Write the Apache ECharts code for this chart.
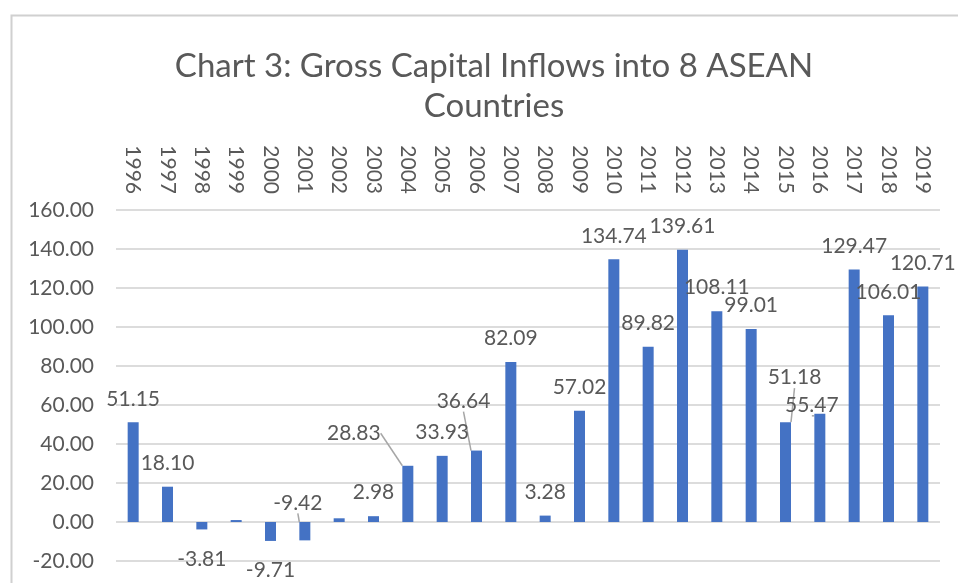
<!DOCTYPE html>
<html>
<head>
<meta charset="utf-8">
<script src="https://cdn.jsdelivr.net/npm/echarts@6/dist/echarts.min.js"></script>
<style>
html, body { margin: 0; padding: 0; background: #fff; }
#main { width: 958px; height: 583px; }
</style>
</head>
<body>
<div id="main"></div>
<script>
var years = ['1996','1997','1998','1999','2000','2001','2002','2003','2004','2005','2006','2007',
	'2008','2009','2010','2011','2012','2013','2014','2015','2016','2017','2018','2019'];
var inflows = [51.15, 18.10, -3.81, 1.0, -9.71, -9.42, 1.9, 2.98, 28.83, 33.93, 36.64, 82.09,
	3.28, 57.02, 134.74, 89.82, 139.61, 108.11, 99.01, 51.18, 55.47, 129.47, 106.01, 120.71];
// years with no data label shown
var noLabel = ['1999', '2002'];
// labels that were dragged away from the bar in the original (year: [dx, dy])
var moved = {
	'2001': [-7, -67],
	'2004': [-54, -9],
	'2006': [-13, -26],
	'2015': [9, -21],
	'2016': [-8, 15]
};

var txt = '#595959';
var font = 'Lato';

var data = [];
for (var i = 0; i < years.length; i++) {
	var v = inflows[i];
	var item = { value: v };
	if (noLabel.indexOf(years[i]) >= 0) {
		item.label = { show: false };
	} else if (v < 0) {
		item.label = { position: 'bottom', distance: 19 };
	}
	if (moved[years[i]]) {
		item.labelLine = { show: true };
	}
	data.push(item);
}

var chart = echarts.init(document.getElementById('main'));
var option = {
	animation: false,
	title: {
		text: 'Chart 3: Gross Capital Inflows into 8 ASEAN\nCountries',
		left: 489,
		textAlign: 'center',
		top: 41,
		textStyle: {
			fontFamily: font,
			fontSize: 33,
			fontWeight: 'normal',
			color: txt,
			lineHeight: 40
		}
	},
	graphic: [{
		type: 'rect',
		left: 9,
		top: 13,
		shape: { width: 2000, height: 2000 },
		style: { fill: 'none', stroke: '#d0d0d0', lineWidth: 2 },
		silent: true
	}],
	grid: { left: 116, right: 18, top: 210, bottom: 22 },
	xAxis: {
		type: 'category',
		data: years,
		position: 'top',
		axisLine: { show: false, onZero: false },
		axisTick: { show: false },
		axisLabel: { rotate: 90, margin: 16, fontSize: 21, color: txt, fontFamily: font, interval: 0 }
	},
	yAxis: {
		type: 'value',
		min: -20,
		max: 160,
		interval: 20,
		axisLine: { show: false },
		axisTick: { show: false },
		axisLabel: {
			margin: 22, fontSize: 21, color: txt, fontFamily: font,
			formatter: function (v) { return v.toFixed(2); }
		},
		splitLine: { lineStyle: { color: '#dcdcdc', width: 2 } }
	},
	series: [{
		type: 'bar',
		data: data,
		barWidth: 11,
		itemStyle: { color: '#4472C4' },
		label: {
			show: true,
			position: 'top',
			distance: 13,
			fontSize: 21,
			color: txt,
			fontFamily: font,
			formatter: function (p) { return p.value.toFixed(2); }
		},
		labelLine: { show: false, lineStyle: { color: '#a6a6a6', width: 1.5 } },
		labelLayout: function (p) {
			var m = moved[years[p.dataIndex]];
			if (m) return { dx: m[0], dy: m[1] };
			return {};
		}
	}]
};
chart.setOption(option);
</script>
</body>
</html>
